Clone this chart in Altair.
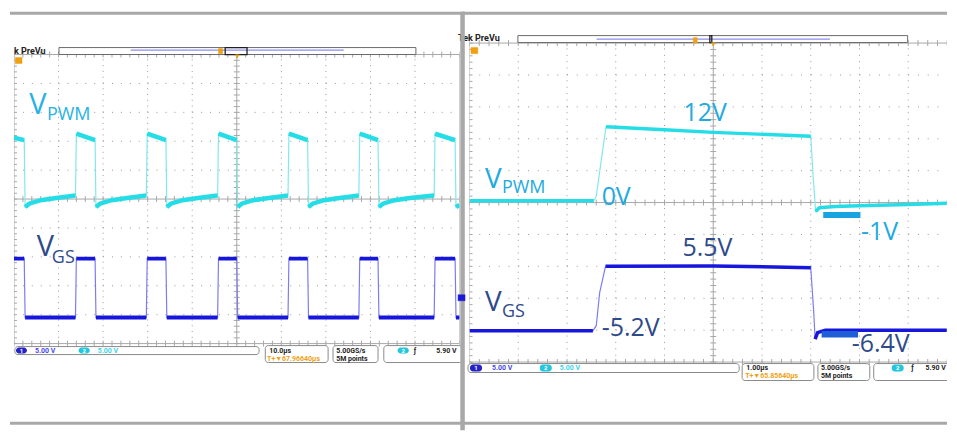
import altair as alt
import numpy as np
import pandas as pd

# ======================= values =======================
# Two oscilloscope captures, both channels 5 V/div.
# Left capture: 10 us/div, right capture: 1 us/div.
# Trace pieces: (kind, [(time in us, volts), ...]); "flat" pieces carry the noise band.
LEFT_VPWM = [
    ("flat", [(-50.0, 10.6), (-47.7, 10.2)]),
    ("flat", [(-47.5, -1.4), (-46.6, -0.8), (-44.0, -0.2), (-40.5, 0.2), (-36.2, 0.6)]),
    ("flat", [(-36.0, 11.3), (-31.8, 10.2)]),
    ("flat", [(-31.6, -1.4), (-30.7, -0.8), (-28.1, -0.2), (-24.6, 0.2), (-20.3, 0.6)]),
    ("flat", [(-20.1, 11.3), (-15.9, 10.2)]),
    ("flat", [(-15.7, -1.4), (-14.8, -0.8), (-12.2, -0.2), (-8.7, 0.2), (-4.3, 0.6)]),
    ("flat", [(-4.1, 11.3), (0.0, 10.2)]),
    ("flat", [(0.2, -1.4), (1.1, -0.8), (3.7, -0.2), (7.2, 0.2), (11.5, 0.6)]),
    ("flat", [(11.7, 11.3), (15.9, 10.2)]),
    ("flat", [(16.1, -1.4), (17.0, -0.8), (19.6, -0.2), (23.1, 0.2), (27.4, 0.6)]),
    ("flat", [(27.6, 11.3), (31.7, 10.2)]),
    ("flat", [(31.9, -1.4), (32.8, -0.8), (35.4, -0.2), (38.9, 0.2), (44.3, 0.6)]),
    ("flat", [(44.5, 11.3), (49.0, 10.2)]),
    ("flat", [(49.2, -1.4), (50.0, -1.0)]),
]
LEFT_VGS = [
    ("flat", [(-50.0, 4.7), (-47.7, 4.7)]),
    ("flat", [(-47.5, -5.5), (-36.2, -5.5)]),
    ("flat", [(-36.0, 4.7), (-31.8, 4.7)]),
    ("flat", [(-31.6, -5.5), (-20.3, -5.5)]),
    ("flat", [(-20.1, 4.7), (-15.9, 4.7)]),
    ("flat", [(-15.7, -5.5), (-4.3, -5.5)]),
    ("flat", [(-4.1, 4.7), (0.0, 4.7)]),
    ("flat", [(0.2, -5.5), (11.5, -5.5)]),
    ("flat", [(11.7, 4.7), (15.9, 4.7)]),
    ("flat", [(16.1, -5.5), (27.4, -5.5)]),
    ("flat", [(27.6, 4.7), (31.7, 4.7)]),
    ("flat", [(31.9, -5.5), (44.3, -5.5)]),
    ("flat", [(44.5, 4.7), (49.0, 4.7)]),
    ("flat", [(49.2, -5.5), (50.0, -5.5)]),
]
RIGHT_VPWM = [
    ("flat", [(-5.0, 0.3), (-2.45, 0.3)]),
    ("edge", [(-2.40, 1.0), (-2.30, 6.5)]),
    ("flat", [(-2.20, 11.9), (-1.0, 11.4), (0.0, 11.0), (2.0, 10.4)]),
    ("edge", [(2.05, 4.0)]),
    ("flat", [(2.10, -1.4), (2.18, -0.8), (2.5, -0.6), (3.0, -0.5), (4.0, -0.3), (4.79, -0.1)]),
]
RIGHT_VGS = [
    ("flat", [(-5.0, -5.1), (-2.47, -5.1)]),
    ("edge", [(-2.40, -4.3), (-2.33, 0.9)]),
    ("flat", [(-2.21, 5.0), (0.0, 5.05), (2.0, 4.8)]),
    ("edge", [(2.06, -2.0)]),
    ("flat", [(2.09, -6.4), (2.14, -5.4), (2.3, -5.0), (4.79, -5.0)]),
]
VOLTS_PER_DIV = 5.0
VPWM_GND_DIV = 0.0
VGS_GND_DIV = -3.0

CYAN_LBL = "#21a9e1"
NAVY_LBL = "#2e4a8a"
# labels: (text, time, division, colour, font size)
LEFT_LABELS = [
    ("V", -46.6, 2.93, "#27b2e6", 29),
    ("PWM", -42.6, 2.72, "#27b2e6", 18),
    ("V", -44.9, -1.97, NAVY_LBL, 29),
    ("GS", -41.5, -2.21, NAVY_LBL, 18),
]
RIGHT_LABELS = [
    ("V", -4.683, 0.453, CYAN_LBL, 28),
    ("PWM", -4.335, 0.297, CYAN_LBL, 18),
    ("V", -4.683, -3.39, NAVY_LBL, 28),
    ("GS", -4.335, -3.59, NAVY_LBL, 18),
    ("0V", -2.29, -0.078, CYAN_LBL, 25),
    ("-1V", 3.03, -1.172, CYAN_LBL, 25),
    ("-5.2V", -2.29, -4.172, NAVY_LBL, 25),
    ("-6.4V", 2.84, -4.70, NAVY_LBL, 25),
]
RIGHT_LABELS_CENTER = [
    ("12V", -0.164, 2.547, CYAN_LBL, 25),
    ("5.5V", -0.12, -1.672, NAVY_LBL, 25),
]
# level markers in right capture: (t0, t1, div0, div1, colour)
RIGHT_BARS = [
    (2.256, 3.020, -0.297, -0.484, "#19a4e0"),
    (2.223, 2.971, -4.025, -4.234, "#1e5fd8"),
]

# status bar read-outs
BLUE_B, CYAN_B, BLUE_T, CYAN_T, ORANGE, BLACK = "#2323c8", "#23c6dc", "#4747ee", "#3dd3e6", "#f0a010", "#222222"
LEFT_BOXES = [(-49.8, 5.0, -5.103, -5.379), (6.4, 20.5, -5.069, -5.655),
              (21.6, 31.7, -5.069, -5.655), (33.0, 50.6, -5.069, -5.655)]
LEFT_BADGES = [("1", -49.55, -47.1, -5.138, -5.345, BLUE_B), ("2", -35.5, -33.0, -5.138, -5.345, CYAN_B),
               ("2", 36.1, 38.6, -5.138, -5.345, CYAN_B)]
LEFT_STATUS = [("5.00 V", -45.3, -5.241, BLUE_T), ("5.00 V", -31.2, -5.241, CYAN_T),
               ("10.0µs", 7.3, -5.241, BLACK), ("T+▼67.96640µs", 6.8, -5.517, ORANGE),
               ("5.00GS/s", 22.3, -5.241, BLACK), ("5M points", 22.3, -5.517, BLACK),
               ("ƒ", 39.7, -5.241, BLACK)]
LEFT_STATUS_R = [("5.90 V", 49.3, -5.241, BLACK)]
RIGHT_BOXES = [(-5.031, 0.532, -5.047, -5.328), (0.593, 2.065, -5.047, -5.578),
               (2.147, 3.211, -5.047, -5.578)]
RIGHT_BOX_CLIPPED = [(3.292, 5.2, -5.047, -5.578)]
RIGHT_BADGES = [("1", -4.99, -4.744, -5.078, -5.297, BLUE_B), ("2", -3.558, -3.313, -5.078, -5.297, CYAN_B),
                ("2", 3.661, 3.906, -5.078, -5.297, CYAN_B)]
RIGHT_STATUS = [("5.00 V", -4.54, -5.188, BLUE_T), ("5.00 V", -3.149, -5.188, CYAN_T),
                ("1.00µs", 0.675, -5.172, BLACK), ("T+▼65.85640µs", 0.654, -5.4375, ORANGE),
                ("5.00GS/s", 2.209, -5.172, BLACK), ("5M points", 2.209, -5.4375, BLACK),
                ("ƒ", 4.06, -5.188, BLACK)]
RIGHT_STATUS_R = [("5.90 V", 4.77, -5.188, BLACK)]

# PreVu strip: box, blue record line, window box, orange markers, caption
LEFT_PREVU = dict(box=(-39.9, 40.2, 5.241, 5.0), line=(-23.8, 24.0, 5.155), win=(-2.6, 2.3, 5.241, 5.0),
                  omark=(-4.1, -3.2, 5.21, 5.03), tri=(0.1, 4.93), cap=("k PreVu", -50.0, 5.03),
                  tmark=(-49.7, -48.2, 4.9, 4.69))
RIGHT_PREVU = dict(box=(-4.008, 3.988, 5.234, 5.016), line=(-2.393, 2.393, 5.125), win=(-0.07, -0.03, 5.234, 5.016),
                   omark=(-0.41, -0.33, 5.17, 5.0), tri=(0.0, 4.953), cap=("Tek PreVu", -5.235, 5.05),
                   tmark=(-4.97, -4.83, 4.86, 4.67))

# ============================== layout ==============================
H = 420
L_XD, L_W, L_YD = [-50.0, 50.0], 447, [-8.0, 6.48276]
R_XD, R_W, R_YD = [-5.0, 4.7955], 479, [-7.140625, 5.984375]
L_PXD, L_PYD, L_TDIV = 44.7, 29.0, 10.0
R_PXD, R_PYD, R_TDIV = 48.9, 32.0, 1.0
FRAME = "#a8a8a8"


def X(f, d):
    return alt.X(f"{f}:Q", scale=alt.Scale(domain=d, nice=False, zero=False), axis=None)


def Y(f, d):
    return alt.Y(f"{f}:Q", scale=alt.Scale(domain=d, nice=False, zero=False), axis=None)


def grid(xd, yd, tdiv, pxd, pyd):
    lo, hi = -5 * tdiv, 5 * tdiv
    dv = pd.DataFrame({"x": [k * tdiv for k in range(-4, 5) if k], "y0": -5.0, "y1": 5.0})
    dh = pd.DataFrame({"y": [float(k) for k in range(-4, 5) if k], "x0": lo, "x1": hi})
    sv = pd.DataFrame({"x": [lo, 0.0, hi], "y0": -5.0, "y1": 5.0})
    sh = pd.DataFrame({"y": [-5.0, 0.0, 5.0], "x0": lo, "x1": hi})
    hx, hy = 3.0 * tdiv / pxd, 3.0 / pyd
    ty = np.round(np.arange(-5.0, 5.0001, 0.2), 4)
    tv = pd.DataFrame([{"y": y, "x0": x - hx, "x1": x + hx} for x in (lo, 0.0) for y in ty])
    tx = np.round(np.arange(lo, hi + 1e-9, 0.2 * tdiv), 4)
    th = pd.DataFrame([{"x": x, "y0": y - hy, "y1": y + hy} for y in (-5.0, 0.0, 5.0) for x in tx])
    return [
        alt.Chart(dv).mark_rule(color="#9a9a9a", strokeDash=[1, pyd / 5 - 1], clip=True)
        .encode(x=X("x", xd), y=Y("y0", yd), y2=alt.Y2("y1")),
        alt.Chart(dh).mark_rule(color="#9a9a9a", strokeDash=[1, pxd / 5 - 1], clip=True)
        .encode(y=Y("y", yd), x=X("x0", xd), x2=alt.X2("x1")),
        alt.Chart(sv).mark_rule(color=FRAME, strokeWidth=1, clip=True)
        .encode(x=X("x", xd), y=Y("y0", yd), y2=alt.Y2("y1")),
        alt.Chart(sh).mark_rule(color=FRAME, strokeWidth=1, clip=True)
        .encode(y=Y("y", yd), x=X("x0", xd), x2=alt.X2("x1")),
        alt.Chart(tv).mark_rule(color=FRAME, strokeWidth=1, clip=True)
        .encode(y=Y("y", yd), x=X("x0", xd), x2=alt.X2("x1")),
        alt.Chart(th).mark_rule(color=FRAME, strokeWidth=1, clip=True)
        .encode(x=X("x", xd), y=Y("y0", yd), y2=alt.Y2("y1")),
    ]


def trace(pieces, gnd, xd, yd, thin, thick, width):
    rows = []
    for i, (kind, pts) in enumerate(pieces):
        for t, v in pts:
            rows.append({"t": t, "y": gnd + v / VOLTS_PER_DIV, "seg": i, "flat": kind == "flat"})
    df = pd.DataFrame(rows)
    df["o"] = np.arange(len(df))
    return [
        alt.Chart(df).mark_line(color=thin, strokeWidth=1.2, clip=True)
        .encode(x=X("t", xd), y=Y("y", yd), order="o:Q"),
        alt.Chart(df[df["flat"]]).mark_line(color=thick, strokeWidth=width, clip=True)
        .encode(x=X("t", xd), y=Y("y", yd), detail="seg:N", order="o:Q"),
    ]


def texts(rows, xd, yd, align, font, baseline="alphabetic", weight="normal"):
    df = pd.DataFrame(rows, columns=["txt", "x", "y", "c", "s"])
    return alt.Chart(df).mark_text(align=align, baseline=baseline, font=font, fontWeight=weight).encode(
        x=X("x", xd), y=Y("y", yd), text="txt:N",
        color=alt.Color("c:N", scale=None), size=alt.Size("s:Q", scale=None))


def boxes(rows, xd, yd, clip=False):
    df = pd.DataFrame(rows, columns=["x0", "x1", "y0", "y1"])
    return alt.Chart(df).mark_rect(fill="white", stroke="#8a8a8a", strokeWidth=1, cornerRadius=3, clip=clip).encode(
        x=X("x0", xd), x2=alt.X2("x1"), y=Y("y0", yd), y2=alt.Y2("y1"))


def badges(rows, xd, yd):
    df = pd.DataFrame(rows, columns=["txt", "x0", "x1", "y0", "y1", "c"])
    df["xm"] = (df["x0"] + df["x1"]) / 2
    df["ym"] = (df["y0"] + df["y1"]) / 2
    return [
        alt.Chart(df).mark_rect(cornerRadius=3).encode(
            x=X("x0", xd), x2=alt.X2("x1"), y=Y("y0", yd), y2=alt.Y2("y1"), color=alt.Color("c:N", scale=None)),
        alt.Chart(df).mark_text(color="white", fontSize=6, fontWeight="bold", font="Roboto", baseline="middle")
        .encode(x=X("xm", xd), y=Y("ym", yd), text="txt:N"),
    ]


def status(boxes_rows, badge_rows, txt_rows, txt_r_rows, xd, yd, clipped_rows=None):
    out = [boxes(boxes_rows, xd, yd)]
    if clipped_rows:
        out.append(boxes(clipped_rows, xd, yd, clip=True))
    out += badges(badge_rows, xd, yd)
    out.append(texts([r + (7,) for r in txt_rows], xd, yd, "left", "Roboto", "middle", "bold"))
    out.append(texts([r + (7,) for r in txt_r_rows], xd, yd, "right", "Roboto", "middle", "bold"))
    return out


def prevu(p, xd, yd):
    b, ln, w, om, tri, cap, tm = p["box"], p["line"], p["win"], p["omark"], p["tri"], p["cap"], p["tmark"]
    return [
        texts([(cap[0], cap[1], cap[2], "#222222", 9)], xd, yd, "left", "Roboto", "alphabetic", "bold"),
        boxes_plain([b], xd, yd, "white", "#6a6a6a", 1),
        alt.Chart(pd.DataFrame({"x0": [ln[0]], "x1": [ln[1]], "y": [ln[2]]}))
        .mark_rule(color="#8c8cf2", strokeWidth=1.2).encode(x=X("x0", xd), x2=alt.X2("x1"), y=Y("y", yd)),
        boxes_plain([w], xd, yd, "none", "#202020", 1.3),
        boxes_plain([om], xd, yd, ORANGE, ORANGE, 0.5),
        boxes_plain([tm], xd, yd, ORANGE, ORANGE, 0.5),
        alt.Chart(pd.DataFrame({"x": [tri[0]], "y": [tri[1]]}))
        .mark_point(shape="triangle-down", filled=True, color=ORANGE, size=22, opacity=1)
        .encode(x=X("x", xd), y=Y("y", yd)),
    ]


def boxes_plain(rows, xd, yd, fill, stroke, sw):
    df = pd.DataFrame(rows, columns=["x0", "x1", "y0", "y1"])
    return alt.Chart(df).mark_rect(fill=fill, stroke=stroke, strokeWidth=sw).encode(
        x=X("x0", xd), x2=alt.X2("x1"), y=Y("y0", yd), y2=alt.Y2("y1"))


def hline(x0, x1, y, xd, yd, width):
    return alt.Chart(pd.DataFrame({"x0": [x0], "x1": [x1], "y": [y]})).mark_rule(
        color=FRAME, strokeWidth=width).encode(x=X("x0", xd), x2=alt.X2("x1"), y=Y("y", yd))


# ---------------- left panel ----------------
lx_edge = L_XD[0] - 4.0 * L_TDIV / L_PXD          # 4 px left of the graticule
lx_sep = L_XD[1] + 5.0 * L_TDIV / L_PXD           # just under the separator
left_layers = (
    grid(L_XD, L_YD, L_TDIV, L_PXD, L_PYD)
    + prevu(LEFT_PREVU, L_XD, L_YD)
    + status(LEFT_BOXES, LEFT_BADGES, LEFT_STATUS, LEFT_STATUS_R, L_XD, L_YD)
    + trace(LEFT_VPWM, VPWM_GND_DIV, L_XD, L_YD, "#7fe9ef", "#25dde6", 4.5)
    + trace(LEFT_VGS, VGS_GND_DIV, L_XD, L_YD, "#7c7cf0", "#1616dc", 4)
    + [texts(LEFT_LABELS, L_XD, L_YD, "left", "Open Sans")]
    + [hline(lx_edge, lx_sep, (196 - 9.5) / L_PYD, L_XD, L_YD, 3),
       hline(lx_edge, lx_sep, (196 - 421) / L_PYD, L_XD, L_YD, 3)]
)
left = alt.layer(*left_layers).properties(width=L_W, height=H)

# ---------------- right panel ----------------
r_sep = (462.5 - 714) / R_PXD
r_bars = pd.DataFrame(RIGHT_BARS, columns=["x0", "x1", "y0", "y1", "c"])
right_layers = (
    grid(R_XD, R_YD, R_TDIV, R_PXD, R_PYD)
    + prevu(RIGHT_PREVU, R_XD, R_YD)
    + status(RIGHT_BOXES, RIGHT_BADGES, RIGHT_STATUS, RIGHT_STATUS_R, R_XD, R_YD, RIGHT_BOX_CLIPPED)
    + trace(RIGHT_VPWM, VPWM_GND_DIV, R_XD, R_YD, "#7fe9ef", "#25dde6", 3.5)
    + trace(RIGHT_VGS, VGS_GND_DIV, R_XD, R_YD, "#7c7cf0", "#1616dc", 3.5)
    + [alt.Chart(r_bars).mark_rect().encode(x=X("x0", R_XD), x2=alt.X2("x1"), y=Y("y0", R_YD),
                                             y2=alt.Y2("y1"), color=alt.Color("c:N", scale=None))]
    + [texts(RIGHT_LABELS, R_XD, R_YD, "left", "Open Sans"),
       texts(RIGHT_LABELS_CENTER, R_XD, R_YD, "center", "Open Sans")]
    + [hline(r_sep, R_XD[1], (199.5 - 9.5) / R_PYD, R_XD, R_YD, 3),
       hline(r_sep, R_XD[1], (199.5 - 421) / R_PYD, R_XD, R_YD, 3),
       alt.Chart(pd.DataFrame({"x": [r_sep], "y0": [R_YD[0]], "y1": [R_YD[1]]}))
       .mark_rule(color=FRAME, strokeWidth=4.5).encode(x=X("x", R_XD), y=Y("y0", R_YD), y2=alt.Y2("y1")),
       boxes_plain([((458 - 714) / R_PXD, (465 - 714) / R_PXD, (199.5 - 292) / R_PYD, (199.5 - 298) / R_PYD)],
                   R_XD, R_YD, "#1a1ad8", "#1a1ad8", 0.5)]
)
right = alt.layer(*right_layers).properties(width=R_W, height=H)

chart = (
    alt.hconcat(left, right, spacing=10, bounds="flush")
    .properties(padding={"left": 0, "right": 0, "top": 0, "bottom": 0}, background="white")
    .configure_view(strokeWidth=0)
)
chart.save("out.html", embed_options={"renderer": "svg", "actions": False})
